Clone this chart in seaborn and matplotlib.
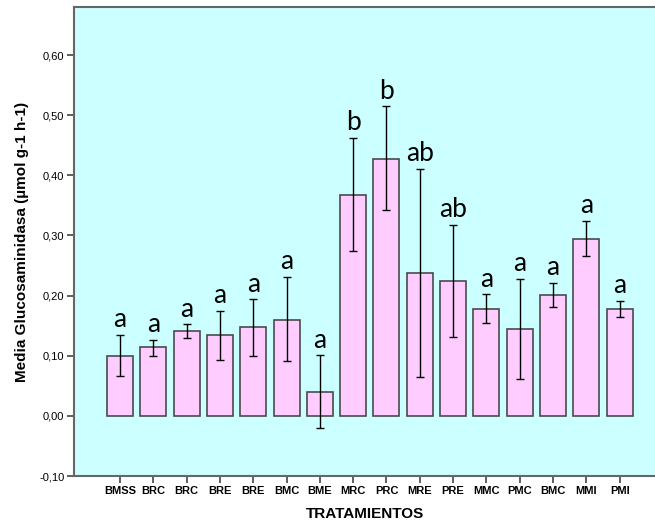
import numpy as np
import pandas as pd
import matplotlib
matplotlib.use("Agg")
import matplotlib.pyplot as plt
import seaborn as sns

# datos
tratamientos = ["BMSS", "BRC", "BRC", "BRE", "BRE", "BMC", "BME", "MRC",
                "PRC", "MRE", "PRE", "MMC", "PMC", "BMC", "MMI", "PMI"]
medias = [0.100, 0.114, 0.141, 0.134, 0.147, 0.160, 0.040, 0.368,
          0.428, 0.237, 0.224, 0.177, 0.144, 0.201, 0.294, 0.177]
err_sup = [0.135, 0.127, 0.152, 0.175, 0.194, 0.231, 0.101, 0.462,
           0.515, 0.411, 0.318, 0.202, 0.228, 0.221, 0.324, 0.191]
err_inf = [0.066, 0.100, 0.129, 0.093, 0.100, 0.091, -0.021, 0.275,
           0.342, 0.064, 0.131, 0.154, 0.061, 0.181, 0.266, 0.164]
letras = ["a", "a", "a", "a", "a", "a", "a", "b",
          "b", "ab", "ab", "a", "a", "a", "a", "a"]
y_ticks = [-0.10, 0.00, 0.10, 0.20, 0.30, 0.40, 0.50, 0.60]

sns.set_style("white")
plt.rcParams["font.family"] = ["Liberation Sans", "DejaVu Sans"]
plt.rcParams["text.color"] = "black"
plt.rcParams["axes.labelcolor"] = "black"
plt.rcParams["xtick.color"] = "black"
plt.rcParams["ytick.color"] = "black"

# posiciones únicas porque hay nombres repetidos
df = pd.DataFrame({"pos": [str(i) for i in range(len(tratamientos))],
                   "media": medias})

fig = plt.figure(figsize=(6.55, 5.24), dpi=100)
ax = fig.add_axes([74 / 655, 48 / 524, 1 - 74 / 655, 469 / 524])
ax.set_facecolor("#ccffff")

sns.barplot(data=df, x="pos", y="media", color="#ffccff", saturation=1,
            width=0.78, edgecolor="#4a4a4a", linewidth=1.2, errorbar=None, ax=ax)

x = np.arange(len(tratamientos))
m = np.array(medias)
yerr = [m - np.array(err_inf), np.array(err_sup) - m]
ax.errorbar(x, m, yerr=yerr, fmt="none", ecolor="black", elinewidth=1,
            capsize=3, capthick=1)

for xi, top, txt in zip(x, err_sup, letras):
    ax.annotate(txt, (xi, top), xytext=(0, 5.5), textcoords="offset points",
                ha="center", va="baseline", fontsize=19, color="black",
                family=["Lato", "DejaVu Sans"])

ax.set_xlim(-1.38, 15 + 1.06)
ax.set_ylim(-0.10, 0.68)
ax.set_yticks(y_ticks)
ax.set_yticklabels([f"{v:.2f}".replace(".", ",") for v in y_ticks], fontsize=8)
ax.set_xticks(x)
ax.set_xticklabels(tratamientos, fontsize=8, fontweight="bold")
ax.tick_params(axis="both", direction="out", length=5, width=1.2, color="#444444",
               left=True, bottom=True, pad=2)

for side in ["left", "bottom", "top"]:
    ax.spines[side].set_color("#666666")
    ax.spines[side].set_linewidth(1.5)
ax.spines["right"].set_visible(False)

ax.set_xlabel("TRATAMIENTOS", fontsize=11, fontweight="bold", labelpad=8)
ax.set_ylabel("Media Glucosaminidasa (µmol g-1 h-1)", fontsize=11,
              fontweight="bold", labelpad=7)

fig.savefig("out.png", dpi=100)
